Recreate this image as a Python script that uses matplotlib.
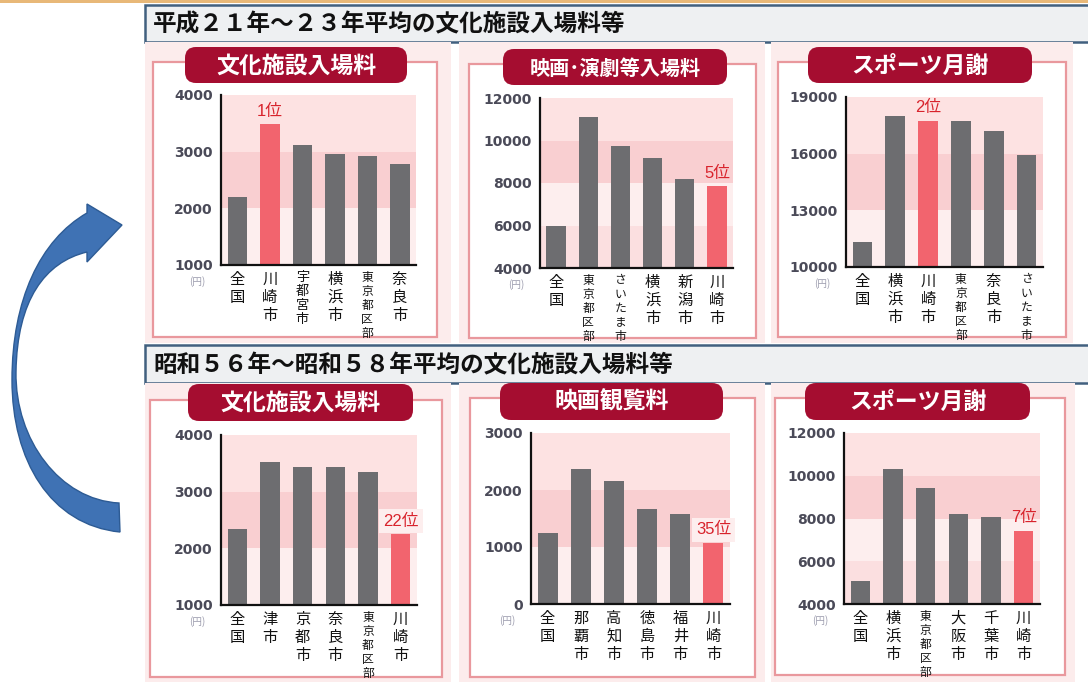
import matplotlib
matplotlib.use("Agg")
import matplotlib.pyplot as plt
from matplotlib.patches import Rectangle, FancyBboxPatch, PathPatch
from matplotlib.path import Path

plt.rcParams['font.family'] = ['Noto Sans CJK JP', 'DejaVu Sans']

W, H = 1088, 682

# Section captions
TOP_CAPTION = "平成２１年～２３年平均の文化施設入場料等"
BOTTOM_CAPTION = "昭和５６年～昭和５８年平均の文化施設入場料等"

# 平成21~23年平均
H_CULTURE_TITLE = "文化施設入場料"
H_CULTURE_CITIES = ["全国", "川崎市", "宇都宮市", "横浜市", "東京都区部", "奈良市"]
H_CULTURE_FEES = [2200, 3480, 3110, 2960, 2930, 2790]
H_CULTURE_TICKS = [1000, 2000, 3000, 4000]
H_CULTURE_RANK = "1位"

H_MOVIE_TITLE = "映画･演劇等入場料"
H_MOVIE_CITIES = ["全国", "東京都区部", "さいたま市", "横浜市", "新潟市", "川崎市"]
H_MOVIE_FEES = [6000, 11100, 9750, 9180, 8190, 7840]
H_MOVIE_TICKS = [4000, 6000, 8000, 10000, 12000]
H_MOVIE_RANK = "5位"

H_SPORT_TITLE = "スポーツ月謝"
H_SPORT_CITIES = ["全国", "横浜市", "川崎市", "東京都区部", "奈良市", "さいたま市"]
H_SPORT_FEES = [11300, 17980, 17730, 17750, 17200, 15910]
H_SPORT_TICKS = [10000, 13000, 16000, 19000]
H_SPORT_RANK = "2位"

# 昭和56~58年平均
S_CULTURE_TITLE = "文化施設入場料"
S_CULTURE_CITIES = ["全国", "津市", "京都市", "奈良市", "東京都区部", "川崎市"]
S_CULTURE_FEES = [2350, 3520, 3435, 3435, 3350, 2250]
S_CULTURE_TICKS = [1000, 2000, 3000, 4000]
S_CULTURE_RANK = "22位"

S_MOVIE_TITLE = "映画観覧料"
S_MOVIE_CITIES = ["全国", "那覇市", "高知市", "徳島市", "福井市", "川崎市"]
S_MOVIE_FEES = [1240, 2370, 2160, 1660, 1580, 1070]
S_MOVIE_TICKS = [0, 1000, 2000, 3000]
S_MOVIE_RANK = "35位"

S_SPORT_TITLE = "スポーツ月謝"
S_SPORT_CITIES = ["全国", "横浜市", "東京都区部", "大阪市", "千葉市", "川崎市"]
S_SPORT_FEES = [5090, 10310, 9420, 8220, 8090, 7420]
S_SPORT_TICKS = [4000, 6000, 8000, 10000, 12000]
S_SPORT_RANK = "7位"

HIGHLIGHT = "川崎市"

GRAY = '#6d6d70'
RED = '#f2646e'
PILL = '#a50d30'
RANK_RED = '#d8232c'
BANDS = ['#fde2e2', '#f9cfd1', '#fdeeee', '#fbdfe0']

# panel layout in pixels: outer, inner box, pill, axes  (x0, y0, x1, y1)
panels = [
    dict(title=H_CULTURE_TITLE, cities=H_CULTURE_CITIES, fees=H_CULTURE_FEES,
         ticks=H_CULTURE_TICKS, rank=H_CULTURE_RANK, title_size=16.5, boxed=False,
         outer=(145, 42, 451, 343), inner=(153, 62, 437, 337),
         pill=(185, 47, 407, 83), axes=(221, 95, 416, 265)),
    dict(title=H_MOVIE_TITLE, cities=H_MOVIE_CITIES, fees=H_MOVIE_FEES,
         ticks=H_MOVIE_TICKS, rank=H_MOVIE_RANK, title_size=14.5, boxed=False,
         outer=(459, 42, 765, 343), inner=(469, 64, 756, 338),
         pill=(503, 49, 727, 85), axes=(540, 98, 733, 268)),
    dict(title=H_SPORT_TITLE, cities=H_SPORT_CITIES, fees=H_SPORT_FEES,
         ticks=H_SPORT_TICKS, rank=H_SPORT_RANK, title_size=16.5, boxed=False,
         outer=(771, 42, 1073, 343), inner=(778, 62, 1066, 337),
         pill=(808, 47, 1032, 83), axes=(846, 97, 1043, 267)),
    dict(title=S_CULTURE_TITLE, cities=S_CULTURE_CITIES, fees=S_CULTURE_FEES,
         ticks=S_CULTURE_TICKS, rank=S_CULTURE_RANK, title_size=16.5, boxed=True,
         outer=(145, 383, 451, 682), inner=(150, 400, 442, 677),
         pill=(188, 384, 413, 421), axes=(221, 435, 417, 605)),
    dict(title=S_MOVIE_TITLE, cities=S_MOVIE_CITIES, fees=S_MOVIE_FEES,
         ticks=S_MOVIE_TICKS, rank=S_MOVIE_RANK, title_size=16.5, boxed=True,
         outer=(459, 383, 765, 682), inner=(470, 398, 755, 677),
         pill=(500, 383, 723, 420), axes=(531, 433, 730, 604)),
    dict(title=S_SPORT_TITLE, cities=S_SPORT_CITIES, fees=S_SPORT_FEES,
         ticks=S_SPORT_TICKS, rank=S_SPORT_RANK, title_size=16.5, boxed=False,
         outer=(771, 383, 1075, 682), inner=(775, 398, 1065, 675),
         pill=(805, 383, 1030, 420), axes=(844, 433, 1040, 604)),
]


def px_rect(box):
    x0, y0, x1, y1 = box
    return [x0 / W, 1 - y1 / H, (x1 - x0) / W, (y1 - y0) / H]


def label_size(name):
    if len(name) >= 5:
        return 8.5
    if len(name) == 4:
        return 9.5
    return 11


fig = plt.figure(figsize=(W / 100, H / 100), dpi=100)
fig.patch.set_facecolor('white')

# background layer in pixel units
bg = fig.add_axes([0, 0, 1, 1], zorder=0)
bg.set_xlim(0, W)
bg.set_ylim(H, 0)
bg.axis('off')

bg.add_patch(Rectangle((0, 0), W, 3, color='#e8b878', lw=0))

for caption, (y0, y1) in [(TOP_CAPTION, (5, 42)), (BOTTOM_CAPTION, (345, 383))]:
    bg.add_patch(Rectangle((145, y0), W - 140, y1 - y0, facecolor='#eef0f2',
                           edgecolor='#41607f', lw=1.8))
    bg.text(153, (y0 + y1) / 2 + 1, caption, fontsize=17, fontweight='bold',
            color='#111111', va='center', ha='left')

for p in panels:
    x0, y0, x1, y1 = p['outer']
    bg.add_patch(Rectangle((x0, y0), x1 - x0, y1 - y0, color='#fcecec', lw=0))
    x0, y0, x1, y1 = p['inner']
    bg.add_patch(Rectangle((x0, y0), x1 - x0, y1 - y0, facecolor='white',
                           edgecolor='#e9989d', lw=1.6))
    x0, y0, x1, y1 = p['pill']
    bg.add_patch(FancyBboxPatch((x0, y0), x1 - x0, y1 - y0,
                                boxstyle="round,pad=0,rounding_size=11",
                                facecolor=PILL, edgecolor='none'))
    bg.text((x0 + x1) / 2, (y0 + y1) / 2 + 1, p['title'], color='white',
            fontsize=p['title_size'], fontweight='bold', ha='center', va='center')

# curved blue arrow on the left
verts = [
    (87, 213), (40, 240), (12, 300), (12, 380),
    (12, 460), (50, 525), (120, 532),
    (119, 503),
    (60, 500), (15, 440), (16, 372),
    (17, 300), (45, 262), (87, 252),
    (87, 262), (122, 225), (87, 204), (87, 213),
]
codes = [Path.MOVETO, Path.CURVE4, Path.CURVE4, Path.CURVE4,
         Path.CURVE4, Path.CURVE4, Path.CURVE4,
         Path.LINETO,
         Path.CURVE4, Path.CURVE4, Path.CURVE4,
         Path.CURVE4, Path.CURVE4, Path.CURVE4,
         Path.LINETO, Path.LINETO, Path.LINETO, Path.CLOSEPOLY]
bg.add_patch(PathPatch(Path(verts, codes), facecolor='#3f72b4',
                       edgecolor='#2d5b94', lw=1))

# the six bar charts
for p in panels:
    ax = fig.add_axes(px_rect(p['axes']), zorder=2)
    ax.set_facecolor('none')
    ticks = p['ticks']
    n_bands = len(ticks) - 1
    for k in range(n_bands):
        hi = ticks[-1 - k]
        lo = ticks[-2 - k]
        ax.axhspan(lo, hi, color=BANDS[k], lw=0, zorder=0)

    cities = p['cities']
    fees = p['fees']
    colors = [RED if c == HIGHLIGHT else GRAY for c in cities]
    xs = range(len(cities))
    ax.bar(xs, fees, width=0.6, color=colors, zorder=2)
    ax.set_xlim(-0.5, len(cities) - 0.5)
    ax.set_ylim(ticks[0], ticks[-1])

    for side in ['top', 'right']:
        ax.spines[side].set_visible(False)
    for side in ['left', 'bottom']:
        ax.spines[side].set_linewidth(1.6)
        ax.spines[side].set_color('#111111')
        ax.spines[side].set_zorder(3)

    ax.set_yticks(ticks)
    ax.set_yticklabels([str(t) for t in ticks])
    ax.tick_params(axis='y', length=0, pad=6, labelsize=10, labelcolor='#4a4a58')
    for lbl in ax.get_yticklabels():
        lbl.set_fontfamily('DejaVu Sans')
        lbl.set_fontweight('bold')

    ax.set_xticks(list(xs))
    ax.set_xticklabels(['\n'.join(c) for c in cities])
    ax.tick_params(axis='x', length=0, pad=4)
    for lbl, c in zip(ax.get_xticklabels(), cities):
        lbl.set_fontsize(label_size(c))
        lbl.set_linespacing(1.1)
        lbl.set_color('#111111')

    ax.annotate("(円)", xy=(0, 0), xycoords='axes fraction', xytext=(-17, -12),
                textcoords='offset points', ha='center', va='center',
                fontsize=7, color='#9c9cae')

    i = cities.index(HIGHLIGHT)
    box = dict(boxstyle='square,pad=0.25', fc='#fdeeee', ec='none') if p['boxed'] else None
    ax.annotate(p['rank'], xy=(i, fees[i]), xytext=(0, 4), textcoords='offset points',
                ha='center', va='bottom', color=RANK_RED, fontsize=12,
                family=['Liberation Sans', 'Noto Sans CJK JP'], bbox=box, zorder=4)

fig.savefig('out.png', dpi=100)
